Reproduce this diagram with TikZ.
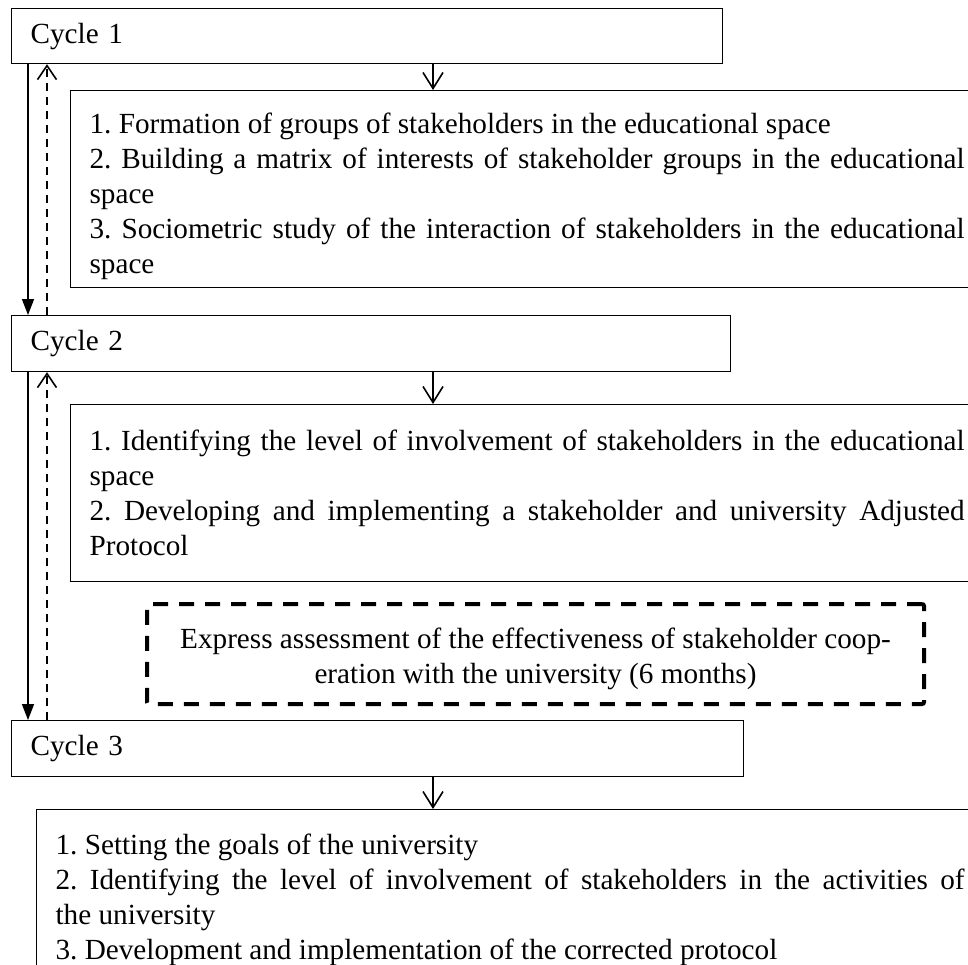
\documentclass[tikz,border=0pt]{standalone}
\usepackage{fontspec}
\setmainfont{Liberation Serif}
\usetikzlibrary{arrows.meta}
\frenchspacing
\begin{document}
\begin{tikzpicture}[x=0.5pt,y=-0.5pt,
  txt/.style={font=\fontsize{14.6}{17.5}\selectfont},
  cycbox/.style={draw, line width=0.6pt, anchor=north west, inner xsep=9.5pt,
    align=left, minimum height=27.5pt, txt},
  stagebox/.style={draw, line width=0.6pt, anchor=north west, inner xsep=9.5pt,
    align=justify, txt},
  evalbox/.style={draw, line width=2pt, dash pattern=on 7.5pt off 5.5pt,
    rounded corners=1pt, anchor=north west, align=center,
    minimum width=388.5pt, minimum height=50pt, txt},
  down/.style={line width=0.8pt, -{Straight Barb[length=8pt,width=10pt]}},
  fwd/.style={line width=0.8pt, -{Triangle[length=8pt,width=6pt]}},
  back/.style={line width=0.8pt, dash pattern=on 4pt off 3pt,
    -{Straight Barb[length=7pt,width=9.5pt]}}]
\useasboundingbox (0,0) rectangle (968,964);
\clip (0,0) rectangle (968,964);
\hyphenpenalty=10000
% cycles
\node[cycbox, text width=336.5pt] (cyc1) at (11,8) {Cycle 1};
\node[cycbox, text width=340.5pt, minimum height=28pt] (cyc2) at (11,315) {Cycle 2};
\node[cycbox, text width=347pt, minimum height=28pt] (cyc3) at (11,720) {Cycle 3};
% stages
\node[stagebox, text width=437.5pt, minimum height=98.5pt] (blk1) at (70,90)
  {\rule{0pt}{18pt}1. Formation of groups of stakeholders in the educational space\\
   2. Building a matrix of interests of stakeholder groups in the educational\linebreak space\\
   3. Sociometric study of the interaction of stakeholders in the educational\linebreak space};
\node[stagebox, text width=437.5pt, minimum height=88.5pt] (blk2) at (70,404)
  {1. Identifying the level of involvement of stakeholders in the educational\linebreak space\\
   2. Developing and implementing a stakeholder and university Adjusted\linebreak Protocol};
\node[evalbox] (eval) at (145,602)
  {\rule{0pt}{15pt}Express assessment of the effectiveness of stakeholder coop-\\
   eration with the university (6 months)};
\node[stagebox, text width=454.5pt, inner ysep=12pt] (blk3) at (36,809)
  {1. Setting the goals of the university\\
   2. Identifying the level of involvement of stakeholders in the activities of\linebreak the university\\
   3. Development and implementation of the corrected protocol};
% connectors
\coordinate (mid) at (433,0);
\coordinate (lsol) at (28,0);
\coordinate (ldsh) at (47,0);
\draw[down] (cyc1.south -| mid) -- (blk1.north -| mid);
\draw[down] (cyc2.south -| mid) -- (blk2.north -| mid);
\draw[down] (cyc3.south -| mid) -- (blk3.north -| mid);
\draw[fwd] (cyc1.south -| lsol) -- (cyc2.north -| lsol);
\draw[fwd] (cyc2.south -| lsol) -- (cyc3.north -| lsol);
\draw[back] (cyc2.north -| ldsh) -- (cyc1.south -| ldsh);
\draw[back] (cyc3.north -| ldsh) -- (cyc2.south -| ldsh);
\end{tikzpicture}
\end{document}
